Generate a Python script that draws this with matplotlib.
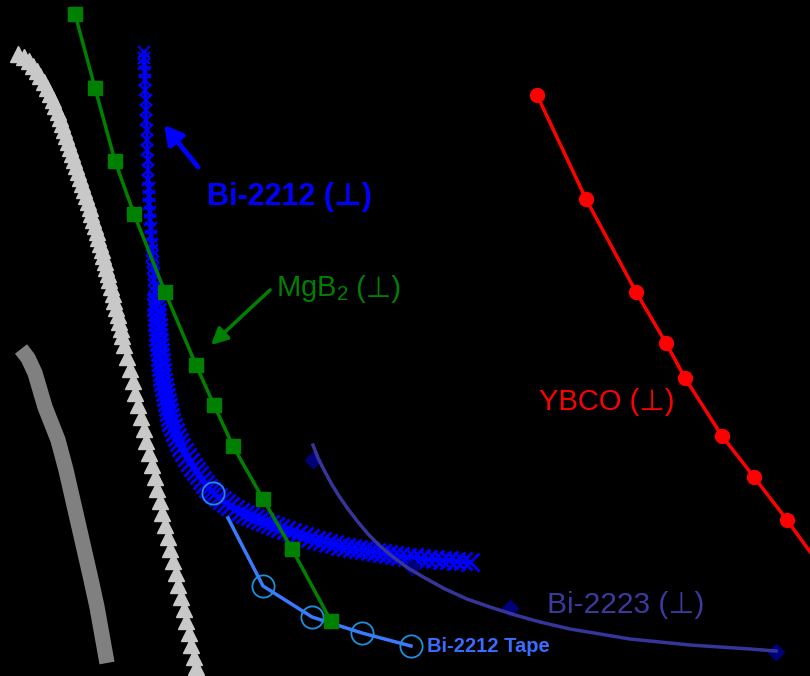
import matplotlib
matplotlib.use("Agg")
import matplotlib.pyplot as plt

plt.rcParams['font.family'] = ['Liberation Sans', 'DejaVu Sans']
plt.rcParams['mathtext.fontset'] = 'custom'
plt.rcParams['mathtext.rm'] = 'Liberation Sans'

# all series in screen units of the original figure (x right, y down)
tri_x = [18, 24, 29, 33, 37, 40, 44, 47, 50, 53, 55, 58, 60, 62, 64, 66, 68, 70, 72, 74,
         76, 78, 80, 82, 84, 86, 88, 90, 91, 93, 95, 97, 98, 100, 102, 103, 105, 106, 108,
         109, 111, 113, 114, 116, 118, 119, 121, 122,
         124, 127, 130, 133, 135, 138, 141, 144, 146, 149, 152, 155, 157, 160, 162, 165,
         168, 170, 173, 176, 178, 181, 184, 186, 189, 191, 194, 196]
tri_y = [54, 57, 61, 66, 71, 76, 82, 88, 94, 100, 106, 112, 118, 124, 130, 136, 142, 148,
         154, 160, 166, 172, 178, 184, 190, 196, 202, 208, 214, 220, 226, 232, 238, 244,
         250, 256, 262, 268, 274, 280, 287, 294, 301, 308, 315, 322, 329, 336,
         345, 357, 369, 381, 393, 405, 417, 429, 441, 453, 465, 477, 489, 501, 513, 525,
         537, 549, 561, 573, 585, 597, 609, 621, 633, 645, 657, 667]

dark_x = [21, 28, 35, 45, 58, 66, 74, 82, 90, 97, 102, 107]
dark_y = [349, 358, 373, 407, 440, 470, 505, 540, 575, 607, 635, 663]

mgb2_x = [75, 95, 115, 134, 165, 196, 214, 233, 263, 292, 331]
mgb2_y = [14, 88, 161, 214, 292, 365, 405, 446, 499, 549, 621]

# Bi-2212 wire: steep part and the knee/tail
bi_top_x = [144, 144, 144, 145, 145, 145, 146, 146, 146, 147, 147, 147, 148, 148, 148, 149,
            149, 149, 150, 150, 151, 151, 152, 152, 152, 153, 153, 154, 154, 155, 155, 155]
bi_top_y = [52, 58, 64, 72, 80, 90, 100, 110, 120, 130, 140, 150, 160, 170, 180, 188, 196,
            204, 212, 220, 228, 236, 244, 250, 256, 262, 268, 274, 280, 286, 292, 298]
bi_low_x = [156, 156, 157, 157, 157, 158, 158, 158, 159, 159, 160, 160, 161, 161, 162, 162,
            163, 164, 165, 166, 167, 168, 169, 170, 171, 173, 175, 177, 179, 181,
            184, 187, 190, 193, 196, 199, 202, 205, 208, 211, 214, 218, 222, 226, 230, 235,
            240, 245, 250, 255, 260, 265, 270, 275, 280, 286, 292, 298, 304, 310, 316, 322,
            328, 334, 340, 346, 352, 358, 364, 370, 376, 382, 388, 394, 400, 407, 414, 421,
            428, 435, 442, 449, 456, 463, 470]
bi_low_y = [302, 307, 312, 317, 322, 327, 332, 337, 342, 347, 352, 357, 362, 367, 372, 377,
            382, 387, 392, 397, 402, 407, 412, 417, 422, 427, 432, 437, 442, 447,
            452, 457, 462, 467, 471, 475, 480, 484, 488, 491, 494, 497, 500, 503, 506, 509,
            512, 514, 516, 518, 520, 522, 524, 526, 528, 530, 532, 534, 536, 538, 540, 541,
            543, 544, 546, 547, 548, 549, 550, 551, 552, 553, 554, 555, 556, 557, 557, 558,
            559, 559, 560, 560, 561, 561, 562]

tape_line_x = [228, 263, 312, 362, 411]
tape_line_y = [518, 586, 617, 633, 646]
tape_pts_x = [213, 263, 312, 362, 411]
tape_pts_y = [493, 586, 617, 633, 646]

bi2223_x = [313, 318, 324, 331, 339, 348, 358, 368, 380, 393, 408, 425, 445, 467, 490,
            515, 540, 570, 600, 630, 660, 690, 720, 750, 776]
bi2223_y = [445, 458, 470, 483, 496, 509, 522, 534, 546, 557, 568, 578, 589, 599, 607,
            615, 622, 629, 634, 639, 642, 645, 647, 649, 651]
bi2223_pts_x = [313, 412, 510, 776]
bi2223_pts_y = [460, 567, 608, 652]

ybco_x = [537, 586, 636, 666, 685, 722, 754, 787, 834]
ybco_y = [95, 199, 292, 343, 378, 436, 477, 520, 585]

fig = plt.figure(figsize=(8.1, 6.76), dpi=100, facecolor='black')
ax = fig.add_axes([0, 0, 1, 1])
ax.set_facecolor('black')
ax.set_xlim(0, 810)
ax.set_ylim(676, 0)
ax.axis('off')

ax.plot(dark_x, dark_y, color='#808080', lw=11, solid_capstyle='butt', zorder=1)
ax.plot(tri_x, tri_y, ls='none', marker='^', ms=11, color='#c8c8c8', zorder=2)

ax.plot(bi_top_x + bi_low_x, bi_top_y + bi_low_y, color='#0000ff', lw=2.2, zorder=3)
ax.plot(bi_top_x, bi_top_y, ls='none', marker='x', ms=9, mew=1.5, color='#0000ff', zorder=3)
ax.plot(bi_low_x, bi_low_y, ls='none', marker='x', ms=13, mew=2, color='#0000ff', zorder=3)

ax.plot(tape_line_x, tape_line_y, color='#3a7aff', lw=2.5, zorder=4)
ax.plot(tape_pts_x, tape_pts_y, ls='none', marker='o', ms=16, mfc='none',
        mec='#1f8fe0', mew=1.3, zorder=4)

ax.plot(bi2223_x, bi2223_y, color='#35359a', lw=2.5, zorder=5)
ax.plot(bi2223_pts_x, bi2223_pts_y, ls='none', marker='D', ms=8, color='#00007a', zorder=4)

ax.plot(mgb2_x, mgb2_y, color='#008000', lw=2.5, marker='s', ms=10, zorder=6)
ax.plot(ybco_x, ybco_y, color='#ff0000', lw=2.5, marker='o', ms=10, zorder=6)

# labels and arrows
ax.annotate('', xy=(164, 125), xytext=(198, 167),
            arrowprops=dict(arrowstyle='-|>,head_width=0.6,head_length=1.1',
                            color='#0000ff', lw=3.5, shrinkA=0, shrinkB=0))
ax.text(207, 197, 'Bi-2212 (⊥)', color='#0000ff', fontsize=22, fontweight='bold',
        ha='left', va='center')

ax.annotate('', xy=(211, 345), xytext=(270, 290),
            arrowprops=dict(arrowstyle='-|>,head_width=0.5,head_length=1.0',
                            color='#008000', lw=2.5, shrinkA=0, shrinkB=0))
t = ax.text(276, 289, r'MgB$_\mathrm{2}$', color='#008000', fontsize=21,
            ha='left', va='center')
ax.annotate(' (⊥)', xy=(1, 0.5), xycoords=t, color='#008000', fontsize=21,
            ha='left', va='center')

ax.text(539, 402, 'YBCO (⊥)', color='#ff0000', fontsize=21, ha='left', va='center')
ax.text(547, 605, 'Bi-2223 (⊥)', color='#3a3aa0', fontsize=21.5, ha='left', va='center')
ax.text(427, 646, 'Bi-2212 Tape', color='#3a6cff', fontsize=14.5, fontweight='bold',
        ha='left', va='center')

fig.savefig('out.png', dpi=100, facecolor='black')
